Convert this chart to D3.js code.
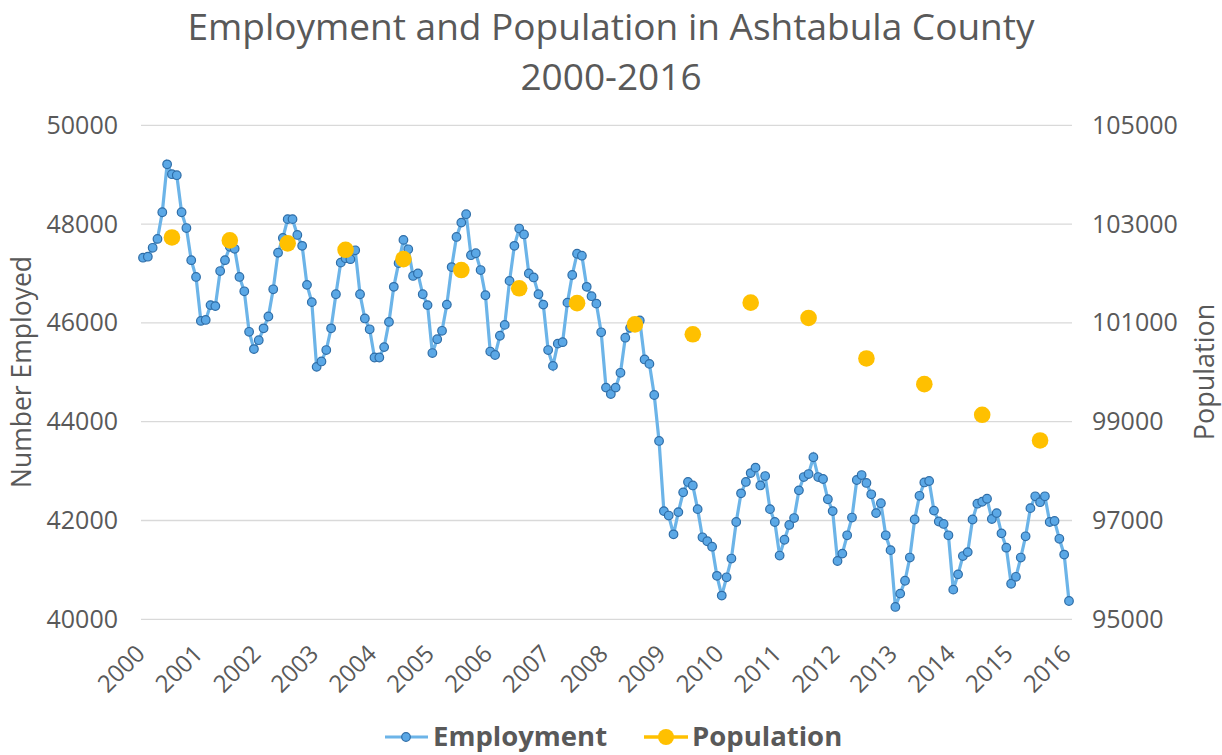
<!DOCTYPE html>
<html>
<head>
<meta charset="utf-8">
<script src="https://cdn.jsdelivr.net/npm/d3@7"></script>
<style>
  body { margin: 0; background: #fff; }
  text { font-family: "Open Sans", "DejaVu Sans", sans-serif; fill: #595959; }
</style>
</head>
<body>
<div id="chart"></div>
<script>
// monthly employment, Jan 2000 .. Jan 2016
var employment = [
  47320, 47340, 47520, 47700, 48240, 49210, 49010, 48990, 48240, 47920, 47270, 46930,
  46040, 46060, 46360, 46340, 47050, 47270, 47540, 47500, 46930, 46640, 45820, 45470,
  45650, 45890, 46130, 46680, 47420, 47720, 48100, 48100, 47780, 47560, 46770, 46420,
  45110, 45220, 45450, 45890, 46580, 47220, 47310, 47290, 47470, 46580, 46090, 45870,
  45300, 45300, 45510, 46020, 46730, 47210, 47680, 47490, 46950, 47000, 46580, 46360,
  45390, 45670, 45840, 46370, 47130, 47740, 48030, 48200, 47370, 47410, 47070, 46560,
  45420, 45350, 45740, 45960, 46850, 47560, 47910, 47790, 47000, 46920, 46580, 46370,
  45450, 45130, 45580, 45610, 46410, 46970, 47400, 47360, 46730, 46540, 46390, 45810,
  44690, 44560, 44690, 44990, 45700, 45900, 45980, 46050, 45260, 45170, 44540, 43610,
  42190, 42100, 41720, 42170, 42570, 42780, 42710, 42230, 41660, 41580, 41470, 40880,
  40480, 40850, 41230, 41970, 42550, 42780, 42960, 43070, 42710, 42900, 42230, 41970,
  41290, 41610, 41910, 42050, 42610, 42880, 42940, 43280, 42880, 42840, 42430, 42190,
  41180, 41330, 41700, 42060, 42820, 42920, 42760, 42530, 42150, 42350, 41700, 41400,
  40250, 40520, 40780, 41250, 42020, 42500, 42770, 42800, 42200, 41980, 41930, 41700,
  40600, 40910, 41280, 41360, 42020, 42340, 42380, 42440, 42030, 42150, 41740, 41450,
  40720, 40860, 41250, 41680, 42250, 42490, 42370, 42490, 41970, 41990, 41630, 41310,
  40370
];

// yearly population, placed at mid-year
var popYears = [2000, 2001, 2002, 2003, 2004, 2005, 2006, 2007, 2008, 2009, 2010, 2011, 2012, 2013, 2014, 2015];
var population = [102730, 102670, 102610, 102480, 102290, 102070, 101700, 101400,
                  100970, 100770, 101410, 101100, 100280, 99760, 99140, 98620];

var yearLabels = ["2000","2001","2002","2003","2004","2005","2006","2007","2008",
                  "2009","2010","2011","2012","2013","2014","2015","2016"];
var leftTicks = [40000, 42000, 44000, 46000, 48000, 50000];
var rightTicks = [95000, 97000, 99000, 101000, 103000, 105000];

var width = 1222, height = 755;

var svg = d3.select("#chart").append("svg")
    .attr("width", width)
    .attr("height", height);

var x = d3.scaleLinear().domain([0, 192]).range([143, 1069]);
var yL = d3.scaleLinear().domain([40000, 50000]).range([619.3, 125.3]);
var yR = d3.scaleLinear().domain([95000, 105000]).range([619.3, 125.3]);

// gridlines
svg.append("g").selectAll("line")
    .data(leftTicks)
    .enter().append("line")
    .attr("x1", 141).attr("x2", 1072)
    .attr("y1", d => yL(d)).attr("y2", d => yL(d))
    .attr("stroke", "#d9d9d9").attr("stroke-width", 1.3);

// left axis
var leftAxis = svg.append("g")
    .attr("transform", "translate(141,0)")
    .call(d3.axisLeft(yL).tickValues(leftTicks).tickSize(0).tickPadding(23).tickFormat(d3.format("d")));
leftAxis.select(".domain").remove();
leftAxis.selectAll("text").style("font-size", "25px").attr("fill", "#595959");

// right axis
var rightAxis = svg.append("g")
    .attr("transform", "translate(1072,0)")
    .call(d3.axisRight(yR).tickValues(rightTicks).tickSize(0).tickPadding(20).tickFormat(d3.format("d")));
rightAxis.select(".domain").remove();
rightAxis.selectAll("text").style("font-size", "25px").attr("fill", "#595959");

// bottom axis, one tick a year
var bottomAxis = svg.append("g")
    .attr("transform", "translate(0,619.3)")
    .call(d3.axisBottom(x).tickValues(d3.range(0, 193, 12)).tickSize(0)
        .tickFormat((d, i) => yearLabels[i]));
bottomAxis.select(".domain").remove();
bottomAxis.selectAll("text")
    .style("font-size", "24px")
    .attr("fill", "#595959")
    .attr("text-anchor", "end")
    .attr("dy", "0.35em")
    .attr("transform", "translate(-3,30) rotate(-45)")
    .attr("y", 0).attr("x", 0);

// axis titles
svg.append("text")
    .attr("transform", "translate(31,372) rotate(-90)")
    .attr("text-anchor", "middle")
    .style("font-size", "26.5px")
    .text("Number Employed");
svg.append("text")
    .attr("transform", "translate(1214,372) rotate(-90)")
    .attr("text-anchor", "middle")
    .style("font-size", "27px")
    .text("Population");

// title
svg.append("text")
    .attr("x", 611).attr("y", 40)
    .attr("text-anchor", "middle")
    .style("font-size", "37px")
    .text("Employment and Population in Ashtabula County");
svg.append("text")
    .attr("x", 611).attr("y", 90)
    .attr("text-anchor", "middle")
    .style("font-size", "37px")
    .text("2000-2016");

// employment line
var line = d3.line()
    .x((d, i) => x(i))
    .y(d => yL(d));

svg.append("path")
    .datum(employment)
    .attr("fill", "none")
    .attr("stroke", "#6cb4e8")
    .attr("stroke-width", 3.2)
    .attr("d", line);

svg.append("g").selectAll("circle")
    .data(employment)
    .enter().append("circle")
    .attr("cx", (d, i) => x(i))
    .attr("cy", d => yL(d))
    .attr("r", 4.3)
    .attr("fill", "#5ba8e6")
    .attr("stroke", "#2f6ea8")
    .attr("stroke-width", 1.2);

// population markers
svg.append("g").selectAll("circle")
    .data(population)
    .enter().append("circle")
    .attr("cx", (d, i) => x((popYears[i] - 2000) * 12 + 6))
    .attr("cy", d => yR(d))
    .attr("r", 8.3)
    .attr("fill", "#ffc000");

// legend
var legend = svg.append("g");
legend.append("line").attr("x1", 385).attr("x2", 428).attr("y1", 737).attr("y2", 737)
    .attr("stroke", "#6cb4e8").attr("stroke-width", 3.2);
legend.append("circle").attr("cx", 406).attr("cy", 737).attr("r", 4.3)
    .attr("fill", "#5ba8e6").attr("stroke", "#2f6ea8").attr("stroke-width", 1.2);
legend.append("text").attr("x", 433).attr("y", 746)
    .style("font-size", "27.5px").style("font-weight", "bold").text("Employment");
legend.append("line").attr("x1", 644).attr("x2", 688).attr("y1", 737).attr("y2", 737)
    .attr("stroke", "#ffc000").attr("stroke-width", 3.5);
legend.append("circle").attr("cx", 666).attr("cy", 737).attr("r", 8)
    .attr("fill", "#ffc000");
legend.append("text").attr("x", 692).attr("y", 746)
    .style("font-size", "27.5px").style("font-weight", "bold").text("Population");
</script>
</body>
</html>
